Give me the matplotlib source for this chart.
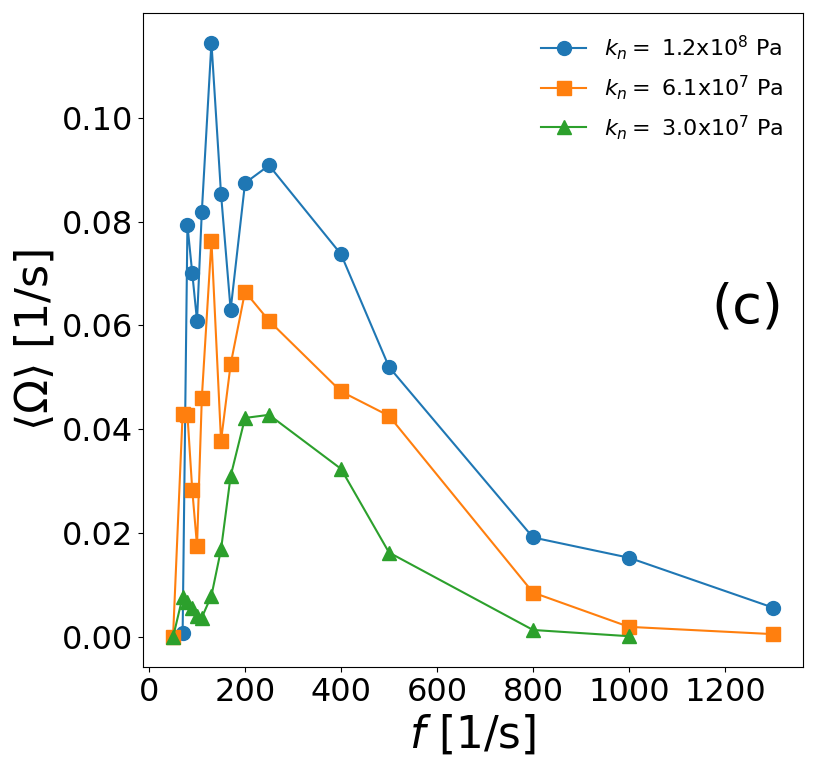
import matplotlib.pyplot as plt

# frequencies [1/s]
f_a = [70, 80, 90, 100, 110, 130, 150, 170, 200, 250, 400, 500, 800, 1000, 1300]
f_b = [50, 70, 80, 90, 100, 110, 130, 150, 170, 200, 250, 400, 500, 800, 1000, 1300]
f_c = [50, 70, 80, 90, 100, 110, 130, 150, 170, 200, 250, 400, 500, 800, 1000]

# mean rotation <Omega> [1/s]
om_a = [0.0008, 0.0793, 0.0701, 0.0609, 0.0819, 0.1144, 0.0853, 0.0630,
        0.0874, 0.0908, 0.0737, 0.0520, 0.0192, 0.0153, 0.0057]
om_b = [0.0, 0.0430, 0.0428, 0.0284, 0.0176, 0.0461, 0.0763, 0.0378, 0.0525,
        0.0665, 0.0609, 0.0473, 0.0426, 0.0086, 0.0020, 0.0006]
om_c = [0.0, 0.0078, 0.0067, 0.0056, 0.0040, 0.0038, 0.0080, 0.0169, 0.0310,
        0.0422, 0.0428, 0.0324, 0.0163, 0.0014, 0.0002]

labels = [r'$k_n = $ 1.2x10$^8$ Pa', r'$k_n = $ 6.1x10$^7$ Pa', r'$k_n = $ 3.0x10$^7$ Pa']

fig = plt.figure(figsize=(8.15, 7.7), dpi=100)
ax = fig.add_axes([0.1755, 0.1338, 0.8098, 0.8493])

ax.plot(f_a, om_a, 'o-', color='C0', markersize=10, label=labels[0])
ax.plot(f_b, om_b, 's-', color='C1', markersize=10, label=labels[1])
ax.plot(f_c, om_c, '^-', color='C2', markersize=10, label=labels[2])

ax.set_xlabel(r'$f$ [1/s]', fontsize=31.5)
ax.set_ylabel(r'$\langle\Omega\rangle$ [1/s]', fontsize=32)
ax.tick_params(labelsize=23)
ax.set_xticks([0, 200, 400, 600, 800, 1000, 1200])
ax.set_yticks([0.0, 0.02, 0.04, 0.06, 0.08, 0.10])
ax.set_yticklabels(['0.00', '0.02', '0.04', '0.06', '0.08', '0.10'])

ax.text(0.97, 0.55, '(c)', transform=ax.transAxes, fontsize=39,
        ha='right', va='center')
ax.legend(loc='upper right', frameon=False, fontsize=16)

fig.savefig('out.png', dpi=100)
